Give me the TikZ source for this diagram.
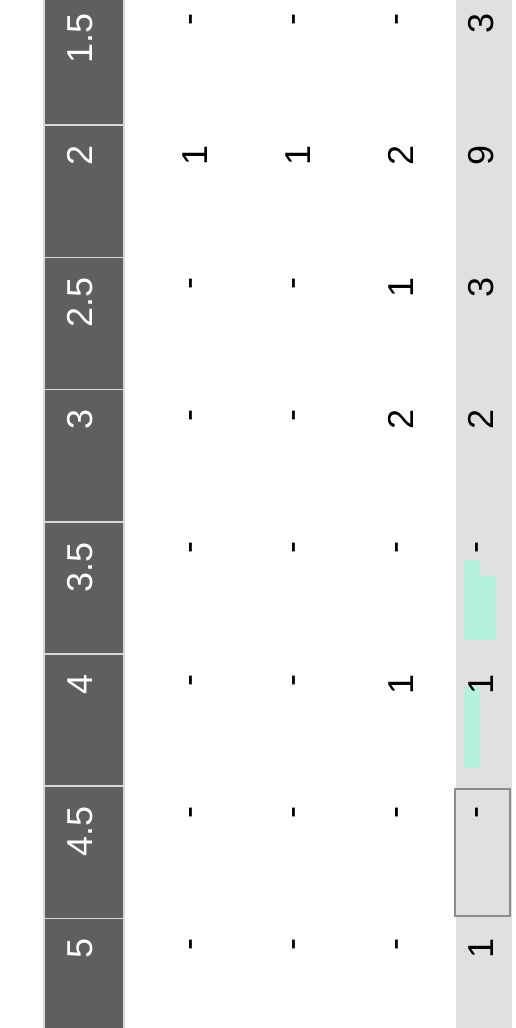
\documentclass[tikz,border=0pt]{standalone}
\usepackage{fontspec}
\setmainfont{Liberation Sans}
\usepackage{xcolor}
\usepackage{tikz}
\usetikzlibrary{positioning}
\definecolor{hdrgrey}{HTML}{5F5F5F}
\definecolor{hdrline}{HTML}{D8D8D8}
\definecolor{sumgrey}{HTML}{E0E0E0}
\definecolor{selline}{HTML}{8C8C8C}
\definecolor{mint}{HTML}{B3F2DE}

\begin{document}
\begin{tikzpicture}[x=1pt, y=-1pt,
	val/.style={rotate=90, anchor=east, inner sep=0pt, font=\fontsize{36pt}{40pt}\selectfont},
	hdr/.style={val, text=white},
	hdrcell/.style={draw=hdrline, line width=1.5pt, fill=hdrgrey}]
	\useasboundingbox (0,0) rectangle (515,1028);
	
	% totals column and selected cell
	\fill[sumgrey] (456,0) rectangle (512,1028);
	\draw[selline, line width=2pt] (455,789) rectangle (510,916);
	\fill[mint] (464,560) -- (480,560) -- (480,576) -- (496,576) -- (496,640) -- (464,640) -- cycle;
	\fill[mint] (464,687) rectangle (480,768);
	
	% header cells
	\foreach \r in {0,...,7}
		\filldraw[hdrcell] (44,{-7+132.2*\r}) rectangle (124,{-7+132.2*(\r+1)});
	
	\foreach \h/\a/\b/\c/\s [count=\r from 0] in {1.5/-/-/-/3, 2/1/1/2/9, 2.5/-/-/1/3, 3/-/-/2/2, 3.5/-/-/-/-, 4/-/-/1/1, 4.5/-/-/-/-, 5/-/-/-/1} {
		\node[hdr] (h\r) at (80,{13+132.2*\r}) {\h};
		\node[val] (a\r) at (195,{13+132.2*\r}) {\a};
		\node[val] (b\r) at (298,{13+132.2*\r}) {\b};
		\node[val] (c\r) at (401,{13+132.2*\r}) {\c};
		\node[val] (s\r) at (481,{13+132.2*\r}) {\s};
	}
\end{tikzpicture}
\end{document}
